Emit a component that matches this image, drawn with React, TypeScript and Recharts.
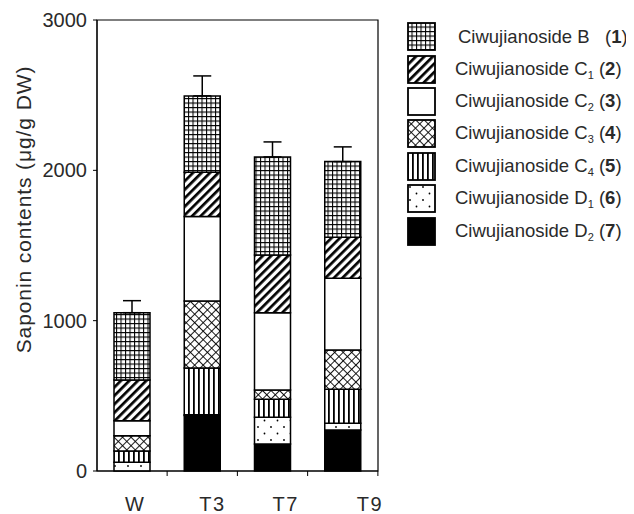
import { Bar, BarChart, ErrorBar, ReferenceArea, XAxis, YAxis } from 'recharts'

const groups = ['W', 'T3', 'T7', 'T9']
// stacked from bottom (D2) to top (B), µg/g DW
const ciwD2 = [0, 370, 180, 273]
const ciwD1 = [58, 5, 177, 44]
const ciwC4 = [75, 310, 120, 227]
const ciwC3 = [102, 445, 62, 261]
const ciwC2 = [100, 563, 514, 477]
const ciwC1 = [270, 295, 384, 273]
const ciwB = [448, 507, 652, 503]
const errUp = [80, 133, 100, 98]
const yTicks = [0, 1000, 2000, 3000]

const legendBase = ['B', 'C', 'C', 'C', 'C', 'D', 'D']
const legendSub = ['', '1', '2', '3', '4', '1', '2']
const legendNum = ['1', '2', '3', '4', '5', '6', '7']
const legendFill = ['url(#pB)', 'url(#pC1)', '#fff', 'url(#pC3)', 'url(#pC4)', 'url(#pD1)', '#000']

const data = groups.map((g, i) => ({
  name: g,
  d2: ciwD2[i],
  d1: ciwD1[i],
  c4: ciwC4[i],
  c3: ciwC3[i],
  c2: ciwC2[i],
  c1: ciwC1[i],
  b: ciwB[i],
  err: [0, errUp[i]],
}))

const FONT = 'Arial, "Liberation Sans", Helvetica, sans-serif'
const INK = '#2a2a2a'
// the scanned figure has its category labels nudged right of the bars
const labelShift: Record<string, number> = { W: 3, T3: 10, T7: 13, T9: 27 }

const series = [
  { key: 'd2', fill: '#000' },
  { key: 'd1', fill: 'url(#pD1)' },
  { key: 'c4', fill: 'url(#pC4)' },
  { key: 'c3', fill: 'url(#pC3)' },
  { key: 'c2', fill: '#fff' },
  { key: 'c1', fill: 'url(#pC1)' },
  { key: 'b', fill: 'url(#pB)' },
]

function LegendBox() {
  return (
    <div style={{ position: 'absolute', left: 399, top: 12.5, fontFamily: FONT, color: INK }}>
      {legendBase.map((b, i) => (
        <div key={i} style={{ display: 'flex', alignItems: 'center', height: 32.4 }}>
          <svg width={29} height={29} style={{ display: 'block' }}>
            <rect x={1} y={1} width={27} height={27} fill={legendFill[i]} stroke="#000" strokeWidth={1.8} />
          </svg>
          <span style={{ marginLeft: i === 0 ? 22 : 19, fontSize: 18.5, whiteSpace: 'pre' }}>
            {'Ciwujianoside ' + b}
            {legendSub[i] ? (
              <sub style={{ fontSize: 11, verticalAlign: -4 }}>{legendSub[i]}</sub>
            ) : (
              '  '
            )}
            {' ('}
            <b>{legendNum[i]}</b>
            {')'}
          </span>
        </div>
      ))}
    </div>
  )
}

function XTick(props: any) {
  const { x, y, payload } = props
  return (
    <g>
      <line x1={x + 35} x2={x + 35} y1={y - 8} y2={y - 3} stroke="#000" />
      <text
        x={x + (labelShift[payload.value] || 0)}
        y={y + 32}
        textAnchor="middle"
        fontSize={20}
        fill={INK}
        fontFamily={FONT}
        letterSpacing={1.5}
      >
        {payload.value}
      </text>
    </g>
  )
}

function YTitle(props: any) {
  const vb = props.viewBox
  const cx = vb.x + 23
  const cy = vb.y + vb.height / 2 - 36
  return (
    <text
      x={cx}
      y={cy}
      transform={`rotate(-90, ${cx}, ${cy})`}
      textAnchor="middle"
      fontSize={21}
      letterSpacing={0.9}
      fill={INK}
      fontFamily={FONT}
    >
      Saponin contents (μg/g DW)
    </text>
  )
}

export default function App() {
  return (
    <div style={{ position: 'relative', width: 626, height: 506 }}>
      <BarChart
        width={626}
        height={506}
        data={data}
        margin={{ top: 12, right: 256, bottom: 13, left: 0 }}
        barSize={36}
      >
        <defs>
          <pattern id="pB" width={4.5} height={4.5} patternUnits="userSpaceOnUse">
            <rect width={4.5} height={4.5} fill="#fff" />
            <path d="M0 0.5H4.5M0.5 0V4.5" stroke="#000" strokeWidth={1.1} />
          </pattern>
          <pattern id="pC1" width={6} height={6} patternUnits="userSpaceOnUse" patternTransform="rotate(45)">
            <rect width={6} height={6} fill="#fff" />
            <rect width={2.7} height={6} fill="#000" />
          </pattern>
          <pattern id="pC3" width={6} height={6} patternUnits="userSpaceOnUse" patternTransform="rotate(45)">
            <rect width={6} height={6} fill="#fff" />
            <path d="M0 0.5H6M0.5 0V6" stroke="#000" strokeWidth={0.9} />
          </pattern>
          <pattern id="pC4" width={5} height={5} patternUnits="userSpaceOnUse">
            <rect width={5} height={5} fill="#fff" />
            <rect x={0} width={1.8} height={5} fill="#000" />
          </pattern>
          <pattern id="pD1" width={13} height={13} patternUnits="userSpaceOnUse">
            <rect width={13} height={13} fill="#fff" />
            <circle cx={3} cy={3} r={0.9} fill="#000" />
            <circle cx={9.5} cy={9.5} r={0.9} fill="#000" />
          </pattern>
        </defs>
        <XAxis dataKey="name" stroke="#000" tickLine={false} tick={<XTick />} interval={0} />
        <YAxis
          domain={[0, 3000]}
          ticks={yTicks}
          stroke="#000"
          width={89}
          tickSize={4}
          tickMargin={6}
          tick={{ fontSize: 20, fill: INK, fontFamily: FONT }}
          label={<YTitle />}
        />
        <ReferenceArea y1={0} y2={3000} fill="none" stroke="#000" strokeWidth={1.2} ifOverflow="visible" />
        {series.map((s) => (
          <Bar
            key={s.key}
            dataKey={s.key}
            stackId="s"
            fill={s.fill}
            stroke="#000"
            strokeWidth={1.5}
            isAnimationActive={false}
          >
            {s.key === 'b' && (
              <ErrorBar dataKey="err" direction="y" width={9} stroke="#000" strokeWidth={1.5} />
            )}
          </Bar>
        ))}
      </BarChart>
      <LegendBox />
    </div>
  )
}
